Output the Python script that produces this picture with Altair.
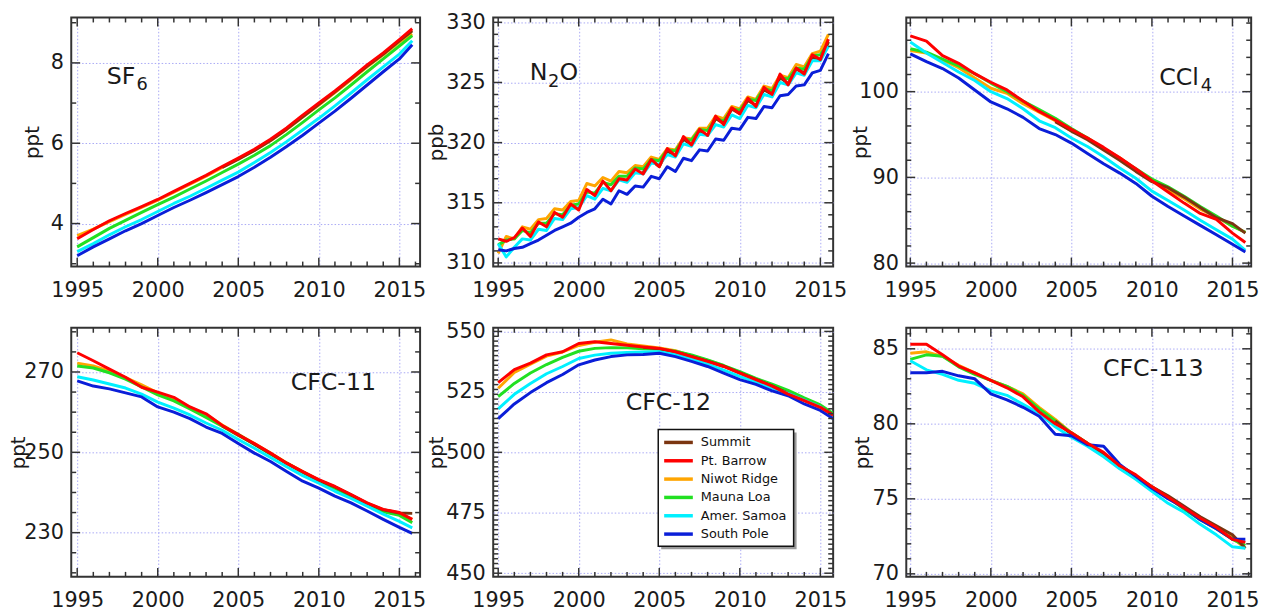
import altair as alt
import pandas as pd
import numpy as np

# ---------------- data ----------------
STATIONS = ["Summit", "Pt. Barrow", "Niwot Ridge", "Mauna Loa", "Amer. Samoa", "South Pole"]
COLORS = ["#7b3510", "#ff0000", "#ffa500", "#22e022", "#00f0ff", "#0a1ed8"]
DRAW_ORDER = ["Niwot Ridge", "Mauna Loa", "Summit", "Amer. Samoa", "South Pole", "Pt. Barrow"]

YEARS = [1995, 1996, 1997, 1998, 1999, 2000, 2001, 2002, 2003, 2004, 2005,
         2006, 2007, 2008, 2009, 2010, 2011, 2012, 2013, 2014, 2015, 2015.8]
SUMMIT_YEARS = [2004, 2005, 2006, 2007, 2008, 2009, 2010, 2011, 2012, 2013, 2014, 2015, 2015.8]
N2O_T = [1995 + 0.5 * i for i in range(42)]
N2O_T_SUMMIT = [2004 + 0.5 * i for i in range(24)]

SF6 = {
    "Pt. Barrow": [3.62, 3.85, 4.07, 4.25, 4.42, 4.60, 4.80, 5.00, 5.20, 5.42, 5.63, 5.85, 6.10, 6.38, 6.70, 7.00, 7.30, 7.62, 7.95, 8.25, 8.58, 8.85],
    "Niwot Ridge": [3.70, 3.86, 4.05, 4.23, 4.40, 4.58, 4.78, 4.98, 5.18, 5.40, 5.60, 5.82, 6.06, 6.34, 6.65, 6.95, 7.26, 7.58, 7.90, 8.20, 8.52, 8.72],
    "Mauna Loa": [3.42, 3.65, 3.88, 4.08, 4.28, 4.47, 4.66, 4.86, 5.06, 5.27, 5.48, 5.70, 5.94, 6.22, 6.52, 6.83, 7.13, 7.45, 7.78, 8.10, 8.42, 8.68],
    "Amer. Samoa": [3.30, 3.50, 3.72, 3.92, 4.10, 4.30, 4.50, 4.68, 4.88, 5.08, 5.28, 5.52, 5.77, 6.04, 6.33, 6.62, 6.93, 7.25, 7.58, 7.90, 8.22, 8.55],
    "South Pole": [3.20, 3.42, 3.62, 3.82, 4.00, 4.20, 4.40, 4.58, 4.77, 4.97, 5.17, 5.40, 5.65, 5.92, 6.20, 6.50, 6.80, 7.12, 7.45, 7.78, 8.10, 8.45],
    "Summit": [5.40, 5.60, 5.82, 6.07, 6.35, 6.66, 6.97, 7.28, 7.60, 7.92, 8.22, 8.55, 8.80],
}

N2O = {
    "Pt. Barrow": [312.0, 311.8, 312.1, 312.9, 312.2, 313.4, 313.0, 314.2, 313.8, 314.9, 314.4, 316.1, 315.6, 316.8,
                   316.0, 317.0, 316.9, 317.8, 317.4, 318.6, 318.0, 319.5, 318.9, 320.5, 319.8, 321.1, 320.6, 322.2,
                   321.5, 322.9, 322.4, 323.7, 323.0, 324.6, 324.0, 325.7, 324.8, 326.2, 325.7, 327.3, 326.9, 328.6],
    "Niwot Ridge": [310.8, 312.2, 312.0, 313.0, 312.8, 313.6, 313.7, 314.5, 314.4, 315.1, 315.2, 316.6, 316.4, 317.1,
                    316.8, 317.6, 317.5, 318.1, 318.0, 318.8, 318.6, 319.5, 319.4, 320.4, 320.3, 321.2, 321.2, 322.2,
                    322.0, 323.0, 322.8, 323.8, 323.6, 324.7, 324.5, 325.6, 325.4, 326.5, 326.3, 327.4, 327.6, 329.0],
    "Mauna Loa": [311.5, 311.9, 312.0, 312.7, 312.5, 313.3, 313.3, 314.1, 314.0, 314.8, 314.9, 315.9, 315.8, 316.7,
                  316.5, 317.2, 317.2, 317.9, 317.8, 318.6, 318.5, 319.4, 319.3, 320.3, 320.2, 321.1, 321.0, 322.0,
                  321.8, 322.8, 322.7, 323.6, 323.5, 324.5, 324.3, 325.4, 325.3, 326.2, 326.1, 327.2, 327.3, 328.3],
    "Amer. Samoa": [311.6, 310.5, 311.3, 312.0, 311.9, 312.8, 312.7, 313.7, 313.6, 314.5, 314.6, 315.6, 315.3, 316.2,
                    316.0, 316.9, 316.7, 317.5, 317.4, 318.3, 318.2, 319.0, 318.8, 319.9, 319.7, 320.7, 320.6, 321.5,
                    321.3, 322.3, 322.0, 323.1, 322.9, 324.0, 323.8, 325.0, 324.8, 325.8, 325.6, 326.8, 326.8, 328.0],
    "South Pole": [311.1, 311.0, 311.2, 311.3, 311.6, 311.9, 312.3, 312.7, 313.0, 313.3, 313.8, 314.2, 314.5, 315.3,
                   314.9, 316.0, 315.7, 316.4, 316.3, 317.2, 317.0, 318.0, 317.6, 318.7, 318.5, 319.4, 319.3, 320.3,
                   320.2, 321.2, 321.1, 322.1, 322.0, 323.0, 322.9, 323.9, 324.0, 324.7, 324.8, 325.8, 326.0, 327.4],
    "Summit": [317.5, 318.5, 318.0, 319.3, 318.9, 320.3, 319.8, 321.0, 320.6, 322.0, 321.6, 322.8, 322.4, 323.5,
               323.1, 324.4, 324.0, 325.4, 324.9, 326.1, 325.8, 327.1, 326.9, 328.4],
}

CCL4 = {
    "Pt. Barrow": [106.5, 105.9, 104.2, 103.3, 102.1, 101.1, 100.2, 98.9, 97.7, 96.7, 95.6, 94.6, 93.5, 92.3, 91.0, 89.6, 88.3, 87.0, 85.8, 85.1, 83.5, 82.4],
    "Niwot Ridge": [104.8, 104.5, 103.7, 102.8, 101.6, 100.4, 99.8, 98.6, 97.6, 96.6, 95.4, 94.6, 93.4, 92.3, 90.9, 89.6, 88.6, 87.5, 86.3, 85.4, 84.3, 83.6],
    "Mauna Loa": [105.0, 104.6, 103.8, 103.0, 102.1, 101.0, 100.0, 98.9, 97.9, 96.9, 95.7, 94.6, 93.3, 92.2, 91.0, 89.8, 88.9, 87.8, 86.6, 85.5, 84.3, 83.6],
    "Amer. Samoa": [105.8, 104.5, 103.4, 102.3, 101.3, 100.0, 99.2, 98.0, 96.6, 95.8, 94.6, 93.6, 92.4, 91.1, 89.9, 88.4, 87.3, 86.2, 85.0, 83.9, 82.8, 81.5],
    "South Pole": [104.4, 103.5, 102.7, 101.6, 100.2, 98.8, 98.0, 97.0, 95.7, 95.0, 94.0, 92.8, 91.6, 90.5, 89.3, 87.8, 86.6, 85.5, 84.4, 83.3, 82.2, 81.3],
    "Summit": [96.5, 95.4, 94.4, 93.2, 92.0, 90.7, 89.5, 88.8, 87.7, 86.5, 85.3, 84.6, 83.5],
}

CFC11 = {
    "Pt. Barrow": [274.8, 272.8, 270.7, 268.7, 266.2, 265.0, 263.7, 261.3, 259.6, 256.7, 254.3, 252.2, 249.8, 247.3, 245.2, 243.2, 241.5, 239.5, 237.4, 235.8, 235.0, 233.3],
    "Niwot Ridge": [272.2, 271.5, 270.2, 268.6, 266.8, 264.8, 263.3, 261.2, 259.4, 256.8, 254.5, 252.2, 249.8, 247.4, 245.2, 243.1, 241.3, 239.2, 237.2, 235.6, 234.8, 233.3],
    "Mauna Loa": [271.5, 271.0, 269.8, 268.2, 266.3, 264.3, 262.8, 260.8, 258.7, 256.5, 254.2, 252.0, 249.5, 247.2, 245.0, 242.8, 241.0, 239.0, 237.0, 235.2, 234.3, 232.5],
    "Amer. Samoa": [268.8, 268.0, 267.0, 266.0, 264.5, 262.5, 261.0, 259.3, 257.3, 255.5, 253.2, 251.0, 248.7, 246.4, 244.2, 242.3, 240.3, 238.5, 236.6, 234.6, 232.8, 231.2],
    "South Pole": [267.8, 266.5, 265.8, 264.8, 263.8, 261.3, 260.0, 258.4, 256.3, 254.7, 252.2, 249.8, 247.7, 245.2, 242.8, 241.1, 239.1, 237.4, 235.4, 233.3, 231.3, 229.8],
    "Summit": [256.6, 254.4, 252.0, 249.7, 247.3, 245.1, 243.0, 241.4, 239.4, 237.3, 235.7, 234.9, 234.8],
}

CFC12 = {
    "Pt. Barrow": [528.8, 534.2, 536.9, 540.3, 541.6, 545.0, 545.7, 545.0, 544.3, 543.6, 543.0, 541.6, 539.6, 537.6, 535.5, 532.8, 530.1, 527.4, 524.1, 521.4, 518.6, 515.3],
    "Niwot Ridge": [526.5, 533.0, 536.5, 539.8, 541.5, 544.2, 545.5, 546.5, 544.8, 544.0, 543.2, 542.0, 540.0, 538.0, 535.8, 533.1, 530.4, 527.8, 524.8, 521.8, 519.0, 515.6],
    "Mauna Loa": [523.0, 528.5, 532.8, 536.3, 539.3, 541.8, 543.0, 543.3, 543.2, 542.8, 542.6, 541.8, 540.3, 538.2, 535.9, 533.4, 530.6, 528.2, 525.6, 522.5, 519.6, 516.0],
    "Amer. Samoa": [518.0, 524.0, 528.5, 532.5, 535.5, 538.8, 540.2, 541.0, 541.3, 541.5, 541.6, 540.5, 538.6, 536.5, 534.0, 531.4, 529.0, 526.6, 524.4, 521.6, 518.8, 515.0],
    "South Pole": [513.9, 520.0, 524.7, 528.8, 532.2, 536.2, 538.2, 539.6, 540.3, 540.5, 541.0, 539.6, 537.6, 535.5, 532.8, 530.1, 528.1, 525.4, 523.4, 520.0, 517.3, 513.9],
    "Summit": [543.4, 542.8, 541.5, 539.7, 537.7, 535.6, 532.9, 530.2, 527.5, 524.4, 521.5, 518.7, 515.4],
}

CFC113 = {
    "Pt. Barrow": [85.3, 85.3, 84.6, 83.85, 83.4, 82.9, 82.4, 81.8, 80.8, 80.0, 79.4, 78.7, 78.1, 77.2, 76.6, 75.8, 75.1, 74.4, 73.7, 73.1, 72.3, 72.1],
    "Niwot Ridge": [84.7, 84.8, 84.5, 83.9, 83.4, 82.9, 82.5, 82.0, 81.1, 80.3, 79.4, 78.7, 77.9, 77.2, 76.5, 75.8, 75.1, 74.4, 73.7, 73.1, 72.4, 71.7],
    "Mauna Loa": [84.3, 84.6, 84.5, 83.8, 83.3, 82.9, 82.5, 81.9, 81.0, 80.2, 79.4, 78.7, 77.9, 77.1, 76.4, 75.7, 75.1, 74.3, 73.6, 73.0, 72.3, 71.9],
    "Amer. Samoa": [84.2, 83.6, 83.3, 82.9, 82.7, 82.2, 81.9, 81.3, 80.7, 79.8, 79.1, 78.5, 77.8, 77.0, 76.3, 75.5, 74.7, 74.1, 73.3, 72.6, 71.8, 71.7],
    "South Pole": [83.4, 83.4, 83.5, 83.2, 83.0, 82.0, 81.6, 81.1, 80.5, 79.3, 79.2, 78.6, 78.5, 77.3, 76.5, 75.7, 75.0, 74.4, 73.6, 73.0, 72.3, 72.3],
    "Summit": [80.2, 79.3, 78.6, 77.9, 77.2, 76.5, 75.8, 75.2, 74.5, 73.8, 73.2, 72.6, 71.7],
}

X_TICKS = list(range(1995, 2017))
X_LABELS = [1995, 2000, 2005, 2010, 2015]

FONT = "DejaVu Sans"
TICK = "#333333"
H = 252
COLOR_OF = dict(zip(STATIONS, COLORS))


def frame(series, times, summit_times):
    rows = []
    for st, vals in series.items():
        ts = summit_times if st == "Summit" else times
        assert len(ts) == len(vals), (st, len(ts), len(vals))
        rows += [{"station": st, "t": t, "v": v} for t, v in zip(ts, vals)]
    return pd.DataFrame(rows)


def legend_layers(x0, y0, w, h, row0, dy):
    one = pd.DataFrame({"k": [0]})
    out = [
        alt.Chart(one).mark_rect(fill="#9a9a9a", stroke=None).encode(
            x=alt.value(x0 + 3), x2=alt.value(x0 + w + 3), y=alt.value(y0 + 3), y2=alt.value(y0 + h + 3)),
        alt.Chart(one).mark_rect(fill="white", stroke="#111111", strokeWidth=1.5).encode(
            x=alt.value(x0), x2=alt.value(x0 + w), y=alt.value(y0), y2=alt.value(y0 + h)),
    ]
    for i, st in enumerate(STATIONS):
        yy = y0 + row0 + i * dy
        out.append(alt.Chart(one).mark_rule(color=COLOR_OF[st], strokeWidth=3.5).encode(
            x=alt.value(x0 + 6), x2=alt.value(x0 + 35), y=alt.value(yy)))
        out.append(alt.Chart(pd.DataFrame({"name": [st]})).mark_text(
            align="left", baseline="middle", font=FONT, fontSize=13, color="#111111").encode(
            x=alt.value(x0 + 43), y=alt.value(yy), text="name:N"))
    return out


def panel(df, label_parts, lx, ly, ytitle, title_x, xdom, ydom, ylabels, ystep, W, legend=False):
    xs = alt.Scale(domain=xdom, nice=False, zero=False)
    ys = alt.Scale(domain=ydom, nice=False, zero=False)
    xax = alt.Axis(values=X_LABELS, format="d", title=None, grid=True, ticks=False, tickSize=0,
                   domain=False, labelPadding=13, labelFlush=False, labelOverlap=False)
    yax = alt.Axis(values=ylabels, title=ytitle, titleX=title_x, titleBaseline="middle", grid=True,
                   ticks=False, tickSize=0, domain=False, labelPadding=8, labelFlush=False,
                   labelOverlap=False)
    X = alt.X("t:Q", scale=xs, axis=xax)
    Y = alt.Y("v:Q", scale=ys, axis=yax)

    layers = []
    for st in DRAW_ORDER:
        sub = df[df.station == st]
        layers.append(
            alt.Chart(sub).mark_line(strokeWidth=3, strokeJoin="round", clip=True,
                                     color=COLOR_OF[st]).encode(x=X, y=Y)
        )

    xt = [t for t in X_TICKS if xdom[0] <= t <= xdom[1]]
    xmin = pd.DataFrame({"t": [t for t in xt if t % 5 != 0]})
    xmaj = pd.DataFrame({"t": [t for t in xt if t % 5 == 0]})
    start = np.ceil(ydom[0] / ystep) * ystep
    yt = [round(float(v), 6) for v in np.arange(start, ydom[1] + 1e-9, ystep)]
    ymin = pd.DataFrame({"v": [v for v in yt if all(abs(v - m) > 1e-6 for m in ylabels)]})
    ymaj = pd.DataFrame({"v": [v for v in yt if any(abs(v - m) <= 1e-6 for m in ylabels)]})

    for d, L in [(xmin, 5), (xmaj, 9)]:
        layers.append(alt.Chart(d).mark_rule(color=TICK, strokeWidth=1.5).encode(
            x=X, y=alt.value(H), y2=alt.value(H - L)))
        layers.append(alt.Chart(d).mark_rule(color=TICK, strokeWidth=1.5).encode(
            x=X, y=alt.value(0), y2=alt.value(L)))
    for d, L in [(ymin, 5), (ymaj, 9)]:
        layers.append(alt.Chart(d).mark_rule(color=TICK, strokeWidth=1.5).encode(
            y=Y, x=alt.value(0), x2=alt.value(L)))
        layers.append(alt.Chart(d).mark_rule(color=TICK, strokeWidth=1.5).encode(
            y=Y, x=alt.value(W), x2=alt.value(W - L)))

    for text, size, dx, dy in label_parts:
        layers.append(
            alt.Chart(pd.DataFrame({"label": [text]})).mark_text(
                align="left", baseline="alphabetic", font=FONT, fontSize=size, color="#1a1a1a"
            ).encode(x=alt.value(lx + dx), y=alt.value(ly + dy), text="label:N")
        )
    if legend:
        layers += legend_layers(167, 103, 137, 118, 13, 18.55)
    return alt.layer(*layers).properties(width=W, height=H)


W1, W2, W3 = 353, 344, 349
XD1 = [1994.63, 1994.63 + W1 / 16.3]
XD2 = [1994.69, 1994.69 + W2 / 16.3]
XD3 = [1994.75, 1994.75 + W3 / 16.3]

SF6_LABEL = [("SF", 24, 0, 0), ("6", 18, 30, 6)]
N2O_LABEL = [("N", 24, 0, 0), ("2", 18, 18.5, 7), ("O", 24, 30, 0)]
CCL4_LABEL = [("CCl", 24, 0, 0), ("4", 18, 42, 6)]

p1 = panel(frame(SF6, YEARS, SUMMIT_YEARS), SF6_LABEL, 36, 67, "ppt", -39, XD1, [2.93, 9.13], [4, 6, 8], 1, W1)
p2 = panel(frame(N2O, N2O_T, N2O_T_SUMMIT), N2O_LABEL, 37, 63, "ppb", -57, XD2, [309.7, 330.4], [310, 315, 320, 325, 330], 1, W2)
p3 = panel(frame(CCL4, YEARS, SUMMIT_YEARS), CCL4_LABEL, 256, 68, "ppt", -46, XD3, [79.6, 108.65], [80, 90, 100], 2, W3)
p4 = panel(frame(CFC11, YEARS, SUMMIT_YEARS), [("CFC-11", 24, 0, 0)], 222, 63, "ppt", -53, XD1, [219, 281], [230, 250, 270], 5, W1)
p5 = panel(frame(CFC12, YEARS, SUMMIT_YEARS), [("CFC-12", 24, 0, 0)], 134, 83, "ppt", -57, XD2, [448.5, 551.5], [450, 475, 500, 525, 550], 2, W2, legend=True)
p6 = panel(frame(CFC113, YEARS, SUMMIT_YEARS), [("CFC-113", 24, 0, 0)], 199, 49, "ppt", -44, XD3, [69.8, 86.4], [70, 75, 80, 85], 1, W3)

chart = (
    alt.concat(p1, p2, p3, p4, p5, p6, columns=3, spacing=alt.RowColnumber(row=62, column=74),
               bounds="flush", align="each")
    .properties(padding={"left": 0, "top": -2, "right": 5, "bottom": 0}, background="white")
    .configure_view(stroke="#333333", strokeWidth=2)
    .configure_axis(labelFont=FONT, labelFontSize=21, labelColor="#1a1a1a", titleFont=FONT,
                    titleFontSize=20, titleFontWeight="normal", titleColor="#1a1a1a",
                    gridColor="#a9a9f5", gridDash=[1.5, 2], gridWidth=1, gridOpacity=1)
)

chart.save("out.html", embed_options={"renderer": "svg", "actions": False})
